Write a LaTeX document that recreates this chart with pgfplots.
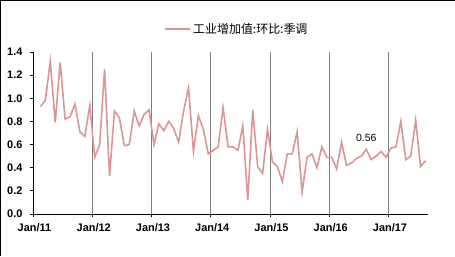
\documentclass[border=0pt]{standalone}
\usepackage{fontspec}
\setmainfont{Liberation Sans}
\newfontfamily\cjk{Noto Sans CJK SC}
\usepackage{pgfplots}
\pgfplotsset{compat=1.18}
\definecolor{linec}{HTML}{D99694}
\definecolor{gridc}{HTML}{7F7F7F}
\begin{document}
\begin{tikzpicture}[x=1bp,y=1bp]
\useasboundingbox (0,0) rectangle (455,256);
\draw[black, line width=1bp] (0.5,0) -- (0.5,255.5) -- (455,255.5);
\begin{axis}[at={(33bp,42bp)}, anchor=south west, scale only axis,
  width=395bp, height=162bp,
  xmin=0, xmax=80, ymin=0, ymax=1.4,
  axis x line=bottom, axis y line=left,
  axis line style={-, line width=0.8bp},
  xtick={0,12,24,36,48,60,72},
  xticklabels={Jan/11,Jan/12,Jan/13,Jan/14,Jan/15,Jan/16,Jan/17},
  ytick={0,0.2,0.4,0.6,0.8,1.0,1.2,1.4},
  yticklabel style={xshift=-4bp, /pgf/number format/.cd, fixed, fixed zerofill, precision=1, assume math mode=true},
  ticklabel style={font=\fontsize{11}{13}\selectfont\bfseries},
  xticklabel style={yshift=-3bp, xshift=1.5bp},
  tick align=outside, major tick length=3bp,
  tick style={black, line width=0.8bp},
  xmajorgrids, major grid style={gridc, line width=0.7bp},
  legend style={draw=none, fill=none, at={(0.516,1.142)}, anchor=center,
    font=\cjk\fontsize{12}{14}\selectfont, inner sep=1bp},
  legend image code/.code={\draw[#1, line width=2bp] (0,0) -- (25bp,0);},
]
\addplot[linec, line width=1.6bp, no markers] coordinates {
(1.5,0.93)(2.5,0.98)(3.5,1.32)(4.5,0.79)(5.5,1.31)(6.5,0.82)(7.5,0.84)(8.5,0.95)(9.5,0.71)(10.5,0.67)(11.5,0.94)
(12.5,0.49)(13.5,0.60)(14.5,1.25)(15.5,0.33)(16.5,0.89)(17.5,0.83)(18.5,0.59)(19.5,0.60)(20.5,0.89)(21.5,0.76)(22.5,0.86)(23.5,0.90)
(24.5,0.60)(25.5,0.78)(26.5,0.72)(27.5,0.80)(28.5,0.74)(29.5,0.62)(30.5,0.89)(31.5,1.09)(32.5,0.54)(33.5,0.85)(34.5,0.73)(35.5,0.52)
(36.5,0.55)(37.5,0.58)(38.5,0.92)(39.5,0.58)(40.5,0.58)(41.5,0.55)(42.5,0.76)(43.5,0.12)(44.5,0.90)(45.5,0.41)(46.5,0.35)(47.5,0.73)
(48.5,0.45)(49.5,0.41)(50.5,0.28)(51.5,0.52)(52.5,0.52)(53.5,0.71)(54.5,0.19)(55.5,0.49)(56.5,0.52)(57.5,0.40)(58.5,0.58)(59.5,0.49)
(60.5,0.49)(61.5,0.39)(62.5,0.62)(63.5,0.42)(64.5,0.44)(65.5,0.48)(66.5,0.50)(67.5,0.56)(68.5,0.47)(69.5,0.50)(70.5,0.54)(71.5,0.49)
(72.5,0.57)(73.5,0.58)(74.5,0.80)(75.5,0.47)(76.5,0.50)(77.5,0.81)(78.5,0.41)(79.5,0.46)
};
\addlegendentry{工业增加值:环比:季调}
\node[anchor=south, inner sep=0pt, font=\fontsize{10.5}{12}\selectfont] at (axis cs:67.5,0.56) [yshift=7bp] {0.56};
\end{axis}
\end{tikzpicture}
\end{document}
